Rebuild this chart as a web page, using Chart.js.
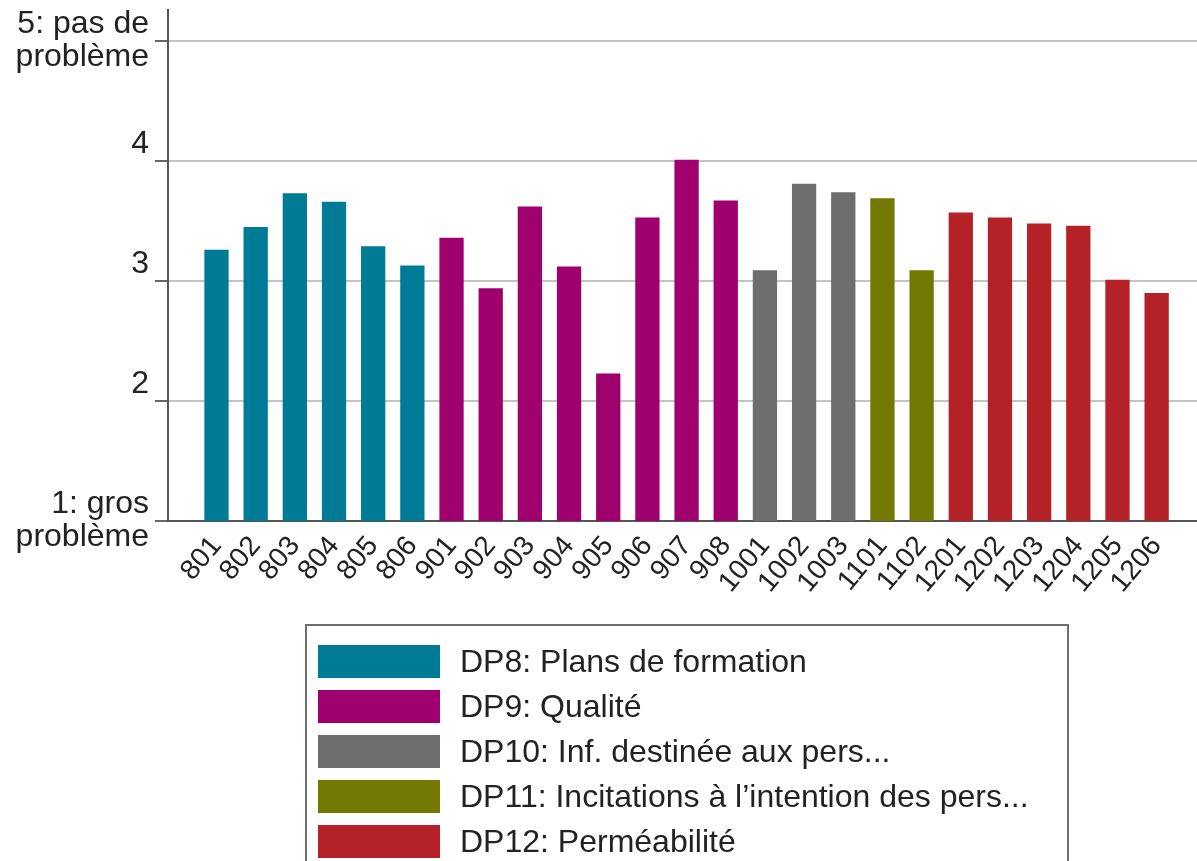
<!DOCTYPE html>
<html lang="fr">
<head>
<meta charset="utf-8">
<title>Domaines problématiques DP8–DP12</title>
<script src="https://cdn.jsdelivr.net/npm/chart.js@4/dist/chart.umd.min.js"></script>
<style>
  html, body { margin: 0; padding: 0; background: #fff; overflow: hidden; }
  #wrap { position: relative; width: 1197px; height: 861px; }
  #chart { position: absolute; left: 0; top: 0; }
  #legend {
    position: absolute; left: 305px; top: 624px; width: 764px; height: 260px;
    border: 2px solid #6f6f6f; box-sizing: border-box;
    font-family: "Liberation Sans", Arial, sans-serif; font-size: 32px; color: #222;
  }
  #legend ul { list-style: none; margin: 0; padding: 13px 0 0 11px; }
  #legend li { display: flex; align-items: center; height: 45px; }
  #legend .sw { width: 122px; height: 33px; margin-right: 20px; flex: none; }
</style>
</head>
<body>
<div id="wrap">
  <canvas id="chart" width="1197" height="861"></canvas>
  <div id="legend"></div>
</div>
<script>
// Item codes along the x axis
const codes = ['801', '802', '803', '804', '805', '806',
               '901', '902', '903', '904', '905', '906', '907', '908',
               '1001', '1002', '1003',
               '1101', '1102',
               '1201', '1202', '1203', '1204', '1205', '1206'];

// Mean score per item (1 = gros problème ... 5 = pas de problème)
const scores = [3.26, 3.45, 3.73, 3.66, 3.29, 3.13,
                3.36, 2.94, 3.62, 3.12, 2.23, 3.53, 4.01, 3.67,
                3.09, 3.81, 3.74,
                3.69, 3.09,
                3.57, 3.53, 3.48, 3.46, 3.01, 2.90];

// Domain of each item (index into domainNames)
const itemDomain = [0, 0, 0, 0, 0, 0,
                    1, 1, 1, 1, 1, 1, 1, 1,
                    2, 2, 2,
                    3, 3,
                    4, 4, 4, 4, 4, 4];

const domainNames = ['DP8: Plans de formation',
                     'DP9: Qualité',
                     'DP10: Inf. destinée aux pers...',
                     'DP11: Incitations à l’intention des pers...',
                     'DP12: Perméabilité'];

const domainColors = ['#007b96', '#a0006e', '#6e6e6e', '#727800', '#b42126'];

// Y tick values and their labels (two lines each)
const yTickValues = [1, 2, 3, 4, 5];
const yTickLabels = {
  1: ['1: gros', 'problème'],
  2: ['2', ''],
  3: ['3', ''],
  4: ['4', ''],
  5: ['5: pas de', 'problème']
};

const FONT = '"Liberation Sans", Arial, sans-serif';

// One dataset per domain, each holding only its own items
const datasets = domainNames.map((name, d) => ({
  label: name,
  backgroundColor: domainColors[d],
  borderWidth: 0,
  data: codes.map((c, i) => ({ x: i, y: scores[i], d: itemDomain[i] }))
             .filter(p => p.d === d)
             .map(p => ({ x: p.x, y: p.y }))
}));

// Builds the boxed legend below the chart from the datasets
const htmlLegend = {
  id: 'htmlLegend',
  afterUpdate(chart) {
    const box = document.getElementById('legend');
    box.innerHTML = '';
    const ul = document.createElement('ul');
    chart.data.datasets.forEach(ds => {
      const li = document.createElement('li');
      const sw = document.createElement('span');
      sw.className = 'sw';
      sw.style.background = ds.backgroundColor;
      const tx = document.createElement('span');
      tx.textContent = ds.label;
      li.appendChild(sw);
      li.appendChild(tx);
      ul.appendChild(li);
    });
    box.appendChild(ul);
  }
};

// Fixed axis sizes; labels may overflow the plot edges without shrinking it
function fixX(s) {
  s.height = 340;
  s.paddingLeft = 0; s.paddingRight = 0; s.paddingTop = 0; s.paddingBottom = 0;
}
function fixY(s) {
  s.width = 168;
  s.paddingLeft = 0; s.paddingRight = 0; s.paddingTop = 0; s.paddingBottom = 0;
}

new Chart(document.getElementById('chart'), {
  type: 'bar',
  data: { datasets },
  plugins: [htmlLegend],
  options: {
    responsive: false,
    animation: false,
    layout: { padding: { top: 10, right: 0, left: 0, bottom: 0 } },
    datasets: { bar: { grouped: false, categoryPercentage: 1, barPercentage: 0.62 } },
    plugins: { legend: { display: false }, tooltip: { enabled: false } },
    scales: {
      x: {
        type: 'linear',
        offset: false,
        min: -1.238,
        max: 25.03,
        afterBuildTicks: s => { s.ticks = codes.map((c, i) => ({ value: i })); },
        afterFit: fixX,
        grid: { display: false, offset: false },
        border: { display: true, color: '#555', width: 2 },
        ticks: {
          autoSkip: false,
          minRotation: 50,
          maxRotation: 50,
          padding: 1,
          color: '#222',
          font: { family: FONT, size: 28 },
          callback: (v, i) => codes[i]
        }
      },
      y: {
        min: 1,
        max: 5.258,
        afterBuildTicks: s => { s.ticks = yTickValues.map(v => ({ value: v })); },
        afterFit: fixY,
        grid: { color: '#c4c4c4', lineWidth: 2, tickColor: '#666', tickLength: 13 },
        border: { display: true, color: '#555', width: 2 },
        ticks: {
          padding: 6,
          color: '#222',
          font: { family: FONT, size: 32, lineHeight: 1.03 },
          callback: v => yTickLabels[v]
        }
      }
    }
  }
});
</script>
</body>
</html>
